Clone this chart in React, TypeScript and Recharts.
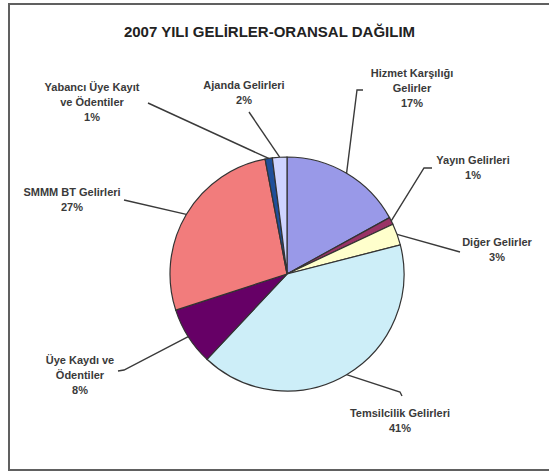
import { PieChart, Pie, Cell } from "recharts";

const categories = [
  "Hizmet Karşılığı Gelirler",
  "Yayın Gelirleri",
  "Diğer Gelirler",
  "Temsilcilik Gelirleri",
  "Üye Kaydı ve Ödentiler",
  "SMMM BT Gelirleri",
  "Yabancı Üye Kayıt ve Ödentiler",
  "Ajanda Gelirleri",
];
const shares = [17, 1, 3, 41, 8, 27, 1, 2];
const labelLines = [
  ["Hizmet Karşılığı", "Gelirler", "17%"],
  ["Yayın Gelirleri", "1%"],
  ["Diğer Gelirler", "3%"],
  ["Temsilcilik Gelirleri", "41%"],
  ["Üye Kaydı ve", "Ödentiler", "8%"],
  ["SMMM BT Gelirleri", "27%"],
  ["Yabancı Üye Kayıt", "ve Ödentiler", "1%"],
  ["Ajanda  Gelirleri", "2%"],
];

const colors = ["#9999e8", "#993366", "#ffffcc", "#cdeef8", "#660066", "#f27c7c", "#1f4f9a", "#cfd4ff"];

// where each label sits: text centre x, first text line y, and the elbow of its leader line
const labelLayout = [
  { tx: 412, ty: 77, path: [[363, 90], [357, 90]] },
  { tx: 473, ty: 164, path: [[432, 168], [424, 168]] },
  { tx: 497, ty: 246, path: [[460, 252]] },
  { tx: 400, ty: 417, path: [[402, 396], [400, 392]] },
  { tx: 80, ty: 364, path: [[118, 371], [124, 370]] },
  { tx: 72, ty: 196, path: [[124, 200]] },
  { tx: 92, ty: 91, path: [[148, 103]] },
  { tx: 244, ty: 89, path: [[249, 112]] },
];

const data = categories.map((name, i) => ({ name, value: shares[i], idx: i }));

const RAD = Math.PI / 180;

const renderLabel = (props: any) => {
  const { cx, cy, midAngle, outerRadius, index } = props;
  const lay = labelLayout[index];
  const sx = cx + outerRadius * Math.cos(-midAngle * RAD);
  const sy = cy + outerRadius * Math.sin(-midAngle * RAD);
  const pts = [[sx, sy], ...lay.path.slice().reverse()];
  const d = pts.map((p, i) => `${i ? "L" : "M"}${p[0]},${p[1]}`).join(" ");
  return (
    <g key={`lbl-${index}`}>
      <path d={d} stroke="#3a3a3a" strokeWidth={1.4} fill="none" />
      <text
        x={lay.tx}
        y={lay.ty}
        textAnchor="middle"
        fill="#3a3a3a"
        fontSize={11}
        fontWeight="bold"
        fontFamily="Liberation Sans, Arial, sans-serif"
      >
        {labelLines[index].map((t, j) => (
          <tspan key={j} x={lay.tx} dy={j === 0 ? 0 : 15}>
            {t}
          </tspan>
        ))}
      </text>
    </g>
  );
};

export default function App() {
  return (
    <div
      style={{
        position: "absolute",
        left: 0,
        top: 0,
        width: 549,
        height: 472,
        overflow: "hidden",
        background: "#fff",
      }}
    >
      <div
        style={{
          position: "absolute",
          left: 8,
          top: 3,
          width: 580,
          height: 464,
          border: "2px solid #606060",
        }}
      />
      <div
        style={{
          position: "absolute",
          left: 0,
          top: 23,
          width: 549,
          textAlign: "center",
          fontFamily: "Liberation Sans, Arial, sans-serif",
          fontWeight: "bold",
          fontSize: 15,
          lineHeight: "18px",
          color: "#222",
        }}
      >
        <span style={{ marginLeft: -10 }}>2007 YILI GELİRLER-ORANSAL DAĞILIM</span>
      </div>
      <div style={{ position: "absolute", left: 0, top: 0 }}>
        <PieChart width={549} height={472}>
          <Pie
            data={data}
            dataKey="value"
            nameKey="name"
            cx={282}
            cy={269}
            outerRadius={117}
            startAngle={90}
            endAngle={-270}
            stroke="#333"
            strokeWidth={1.2}
            label={renderLabel}
            labelLine={false}
            isAnimationActive={false}
          >
            {data.map((d, i) => (
              <Cell key={d.name} fill={colors[i]} />
            ))}
          </Pie>
        </PieChart>
      </div>
    </div>
  );
}
